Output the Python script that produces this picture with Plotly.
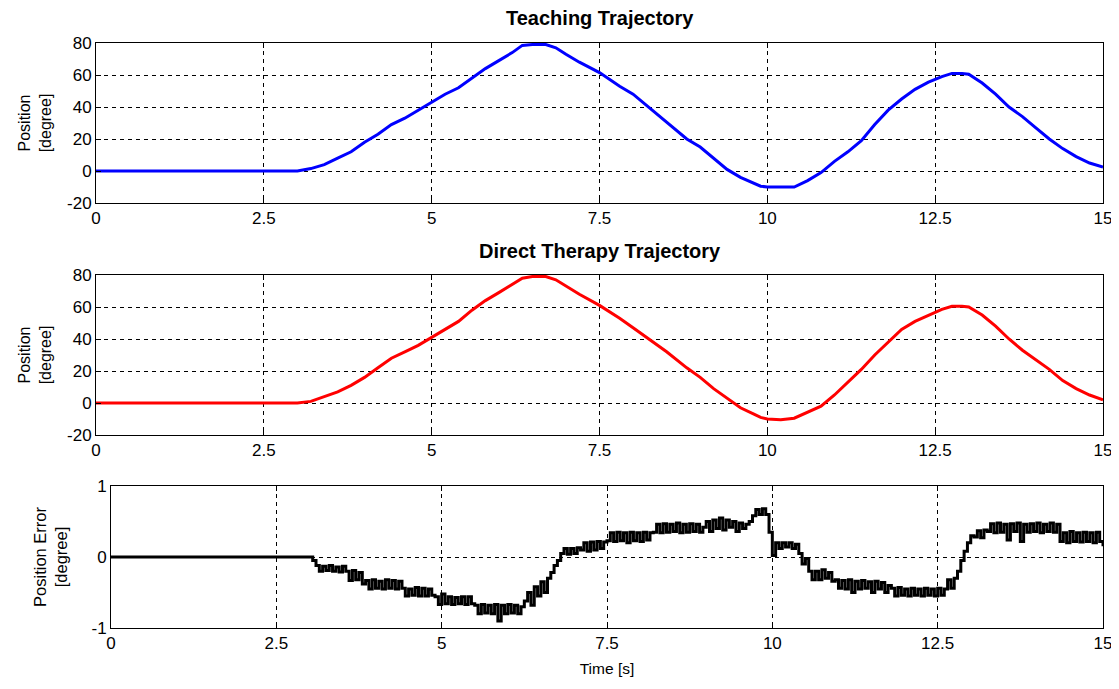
import plotly.graph_objects as go

# ---- data ----
t_pos = [0, 2.5, 3.0, 3.2, 3.4, 3.6, 3.8, 4.0, 4.2, 4.4, 4.6, 4.8, 5.0, 5.2, 5.4, 5.6, 5.8, 6.0,
         6.2, 6.35, 6.5, 6.7, 6.85, 7.0, 7.2, 7.5, 7.8, 8.0, 8.2, 8.5, 8.8, 9.0, 9.2, 9.4, 9.6,
         9.8, 9.9, 10.0, 10.2, 10.4, 10.6, 10.8, 11.0, 11.2, 11.4, 11.6, 11.8, 12.0, 12.2, 12.4,
         12.6, 12.75, 12.9, 13.0, 13.2, 13.4, 13.6, 13.8, 14.0, 14.2, 14.4, 14.6, 14.8, 15.0]
teaching = [0, 0, 0, 1.5, 4, 8, 12, 18, 23, 29, 33, 38, 43, 48, 52, 58, 64, 69,
            74, 78.5, 79, 79, 77, 73, 68, 61.5, 53, 48, 41, 31, 20, 15, 8, 1, -4,
            -8, -9.5, -10, -10, -10, -6, -1, 6, 12, 19, 29, 38, 45, 51, 55.5,
            59, 61, 61, 60.5, 55, 48, 40, 34, 27, 20, 14, 9, 5, 2.5]
therapy = [0, 0, 0, 1, 4, 7, 11, 16, 22, 28, 32, 36, 41, 46, 51, 58, 64, 69,
           74, 78, 79, 79, 77, 73, 68, 61, 53, 47, 41, 32, 22, 16, 9, 3, -3,
           -7, -9, -10, -10.5, -9.5, -6, -2, 5, 13, 21, 30, 38, 46, 51, 55,
           58.5, 60.5, 60.5, 60, 55, 48, 40, 33, 27, 21, 14, 9, 5, 2]

err_start = 3.0
err_step = 0.05
error = [0, -0.05,
         -0.12, -0.2, -0.13, -0.19, -0.12, -0.2, -0.14, -0.21, -0.13,
         -0.2, -0.33, -0.19, -0.32, -0.22, -0.38,
         -0.33, -0.45, -0.32, -0.44, -0.34, -0.45, -0.32, -0.44, -0.33, -0.45, -0.34,
         -0.44, -0.55, -0.45, -0.54, -0.43, -0.55, -0.44, -0.55, -0.45, -0.54,
         -0.56, -0.67, -0.52, -0.66, -0.56, -0.67, -0.57, -0.66, -0.56, -0.67, -0.56, -0.66,
         -0.68, -0.8, -0.67, -0.79, -0.68, -0.8, -0.67, -0.9, -0.68, -0.8, -0.67, -0.79, -0.68, -0.8, -0.7,
         -0.62, -0.5, -0.68, -0.42, -0.55, -0.35, -0.5, -0.3,
         -0.22, -0.12, -0.05, 0.05,
         0.12, 0.04, 0.12, 0.05, 0.13,
         0.1, 0.2, 0.08, 0.21, 0.1, 0.22, 0.12, 0.21,
         0.23, 0.34, 0.22, 0.35, 0.23, 0.34, 0.2, 0.35, 0.23, 0.34, 0.22, 0.35, 0.24, 0.34,
         0.35, 0.46, 0.34, 0.47, 0.35, 0.46, 0.36, 0.48, 0.34, 0.46, 0.35, 0.47, 0.36, 0.46, 0.35,
         0.42, 0.5, 0.36, 0.52, 0.4, 0.55, 0.38, 0.52, 0.42, 0.5, 0.36, 0.48, 0.4, 0.46, 0.5,
         0.58, 0.67, 0.6, 0.68, 0.6,
         0.35, 0.02,
         0.2, 0.12, 0.2, 0.14, 0.2, 0.12, 0.18,
         0.05, -0.1, -0.02, -0.2, -0.32,
         -0.2, -0.32, -0.18, -0.3, -0.22, -0.34,
         -0.32, -0.44, -0.33, -0.45, -0.32, -0.5, -0.34, -0.45, -0.33, -0.44, -0.35, -0.5, -0.34, -0.45, -0.36, -0.5, -0.4,
         -0.44, -0.55, -0.43, -0.54, -0.45, -0.55, -0.44, -0.54, -0.45, -0.55, -0.44, -0.54, -0.45, -0.55, -0.44, -0.54, -0.45,
         -0.32, -0.44, -0.3,
         -0.2, -0.05, 0.08, 0.2, 0.3,
         0.28, 0.37, 0.27, 0.38,
         0.36, 0.47, 0.34, 0.48, 0.35, 0.46, 0.24, 0.47, 0.36, 0.48, 0.22, 0.46, 0.35, 0.47, 0.36, 0.48, 0.34, 0.46, 0.36, 0.48, 0.35, 0.46,
         0.22, 0.34, 0.2, 0.36, 0.22, 0.34, 0.21, 0.35, 0.22, 0.34, 0.2, 0.35, 0.22,
         0.15]
t_err = [0.0] + [round(err_start + i * err_step, 2) for i in range(len(error))]
err_vals = [0.0] + error

x_ticks = [0, 2.5, 5, 7.5, 10, 12.5, 15]
x_labels = ["0", "2.5", "5", "7.5", "10", "12.5", "15"]
pos_ticks = [-20, 0, 20, 40, 60, 80]
pos_labels = ["-20", "0", "20", "40", "60", "80"]
err_ticks = [-1, 0, 1]
err_labels = ["-1", "0", "1"]

titles = ["Teaching Trajectory", "Direct Therapy Trajectory"]

# ---- figure ----
W, H = 1119, 689
OFF_X, OFF_Y = 9, 8   # page body margin compensation
FONT = "Liberation Sans, Arial, sans-serif"

def px_x(p):
    return (p - OFF_X) / W

def px_y(p):
    return 1 - (p - OFF_Y) / H

fig = go.Figure()
fig.add_trace(go.Scatter(x=t_pos, y=teaching, mode="lines", line=dict(color="#0000ff", width=3),
                         xaxis="x", yaxis="y", showlegend=False))
fig.add_trace(go.Scatter(x=t_pos, y=therapy, mode="lines", line=dict(color="#ff0000", width=3),
                         xaxis="x2", yaxis="y2", showlegend=False))
fig.add_trace(go.Scatter(x=t_err, y=err_vals, mode="lines", line=dict(color="#000000", width=3, shape="hv"),
                         xaxis="x3", yaxis="y3", showlegend=False))

common_x = dict(range=[0, 15], tickvals=x_ticks, ticktext=x_labels, showgrid=True,
                gridcolor="black", griddash="4px,4px", gridwidth=1, zeroline=False,
                showline=True, linecolor="black", linewidth=1, mirror="ticks",
                ticks="inside", ticklen=5, tickcolor="black", automargin=False,
                tickfont=dict(family=FONT, size=17, color="black"))
common_y = dict(showgrid=True, gridcolor="black", griddash="4px,4px", gridwidth=1, zeroline=False,
                showline=True, linecolor="black", linewidth=1, mirror="ticks",
                ticks="inside", ticklen=5, tickcolor="black", automargin=False,
                tickfont=dict(family=FONT, size=17, color="black"))

doms_y = [(43, 203), (275, 435), (486, 628)]
doms_x = [(97, 1104), (97, 1104), (112, 1104)]
title_y = [18, 251]

layout = dict(width=W, height=H, margin=dict(l=0, r=0, t=0, b=0, autoexpand=False),
              paper_bgcolor="white", plot_bgcolor="white",
              font=dict(family=FONT, color="black"))

for i in range(3):
    sx = "" if i == 0 else str(i + 1)
    xa = dict(common_x, domain=[px_x(doms_x[i][0]), px_x(doms_x[i][1])], anchor="y" + sx)
    ya = dict(common_y, domain=[px_y(doms_y[i][1]), px_y(doms_y[i][0])], anchor="x" + sx)
    if i < 2:
        ya.update(range=[-20, 80], tickvals=pos_ticks, ticktext=pos_labels,
                  title=dict(text="Position<br>[degree]", font=dict(family=FONT, size=16), standoff=11))
    else:
        ya.update(range=[-1, 1], tickvals=err_ticks, ticktext=err_labels,
                  title=dict(text="Position Error<br>[degree]", font=dict(family=FONT, size=16.5), standoff=19))
        xa.update(title=dict(text="Time [s]", font=dict(family=FONT, size=15.5), standoff=10))
    layout["xaxis" + sx] = xa
    layout["yaxis" + sx] = ya

annotations = []
for i, ttl in enumerate(titles):
    annotations.append(dict(text="<b>" + ttl + "</b>", xref="paper", yref="paper",
                            x=px_x((doms_x[i][0] + doms_x[i][1]) / 2), y=px_y(title_y[i]),
                            xanchor="center", yanchor="middle", showarrow=False,
                            font=dict(family=FONT, size=20, color="black")))
layout["annotations"] = annotations

fig.update_layout(**layout)
fig.write_html("out.html")
